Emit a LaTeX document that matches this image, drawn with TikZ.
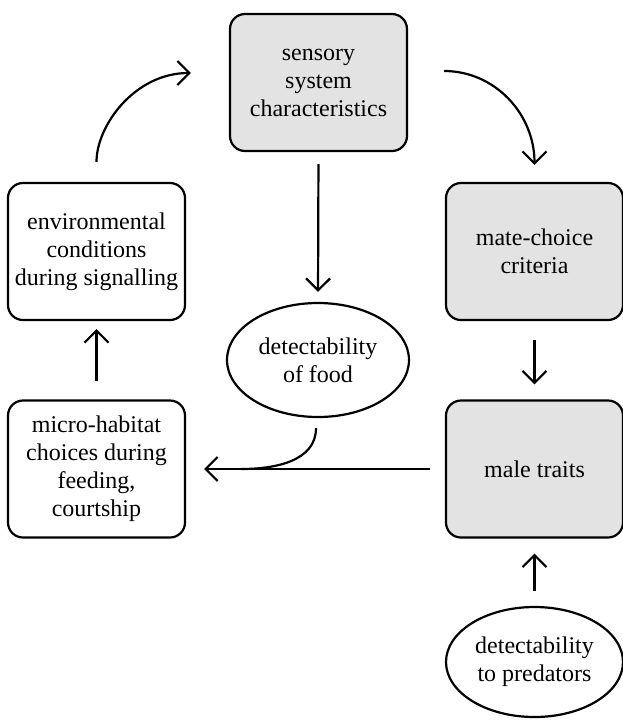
\documentclass[tikz,border=0pt]{standalone}
\usepackage{fontspec}
\setmainfont{Liberation Serif}
\usepackage{tikz}
\usetikzlibrary{positioning}
\usetikzlibrary{shapes,arrows,calc,arrows.meta}
\definecolor{boxgray}{gray}{0.89}

\begin{document}
\begin{tikzpicture}[node distance=219pt, auto,
    box/.style={draw, rectangle, rounded corners=7.5pt, line width=1.1pt,
      minimum width=88.5pt, minimum height=68.5pt, inner sep=0pt,
      align=center, font=\fontsize{12}{14}\selectfont},
    greybox/.style={box, fill=boxgray},
    blob/.style={draw, ellipse, line width=1.1pt, inner sep=0pt,
      align=center, font=\fontsize{12}{14}\selectfont},
    flow/.style={-{Straight Barb[length=6pt,width=12pt]}, line width=1.1pt}]
    \useasboundingbox (0,0) rectangle (311.5pt,-360pt);

    % Nodes
    \node [box] (env) at (48.25pt,-125.75pt) {environmental\\conditions\\during signalling};
    \node [greybox, right of=env] (mate) {mate-choice\\criteria};
    \node [box, below of=env, node distance=108.75pt] (micro) {micro-habitat\\choices during\\feeding,\\courtship};
    \node [greybox, below of=mate, node distance=108.75pt] (male) {male traits};
    \node [blob, minimum width=88.5pt, minimum height=55pt, below of=male, node distance=96.5pt] (predators) {detectability\\to predators};

    \node [greybox] (sensory) at (159.25pt,-41.25pt) {sensory\\system\\characteristics};
    \node [blob, minimum width=91pt, minimum height=57pt] (food) at (159pt,-180pt) {detectability\\of food};
    \coordinate (join) at ([xshift=27.5pt]micro.east);

    % Arrows
    \draw [flow, shorten <=10pt] (env.north) to[out=90, in=180] ([xshift=-19pt,yshift=4.75pt]sensory.west);
    \draw [flow] ([xshift=18pt,yshift=5.75pt]sensory.east) to[out=0, in=90] ([yshift=8.5pt]mate.north);
    \draw [flow, shorten <=6pt, shorten >=5pt] (sensory.south) -- (food.north);
    \draw [flow, shorten <=9.5pt, shorten >=7.5pt] (mate) -- (male);
    \draw [flow, shorten <=7.5pt, shorten >=7.5pt] (predators) -- (male);
    \draw [flow, shorten <=9pt, shorten >=4pt] (micro) -- (env);
    \draw [flow, shorten <=7.5pt, shorten >=9pt] (male) -- (micro);
    \draw [line width=1.1pt] ([xshift=-1pt,yshift=-5pt]food.south) to[out=-90, in=0] (join);
\end{tikzpicture}
\end{document}
